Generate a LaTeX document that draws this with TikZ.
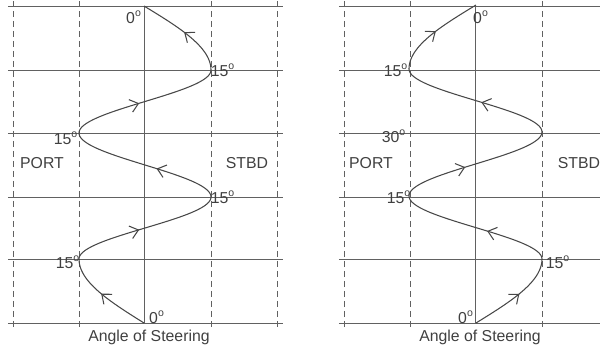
\documentclass[tikz,border=0pt]{standalone}
\usepackage{fontspec}
\setmainfont{Liberation Sans}
\usetikzlibrary{decorations.markings,arrows.meta}
\newcommand{\dgr}{\textsuperscript{o}}

\begin{document}
\begin{tikzpicture}[x=0.02cm, y=-0.02cm, >={Straight Barb[length=1.6mm,width=2.6mm]}, font=\fontsize{9}{11}\selectfont]
		\tikzset{grid/.style={draw=black!62, line width=0.5pt}}
		\tikzset{guide/.style={grid, dash pattern=on 0.12cm off 0.08cm}}
		\tikzset{track/.style={draw=black!72, line width=0.6pt}}
		\tikzset{lab/.style={text=black!75, inner sep=0pt}}
		\tikzset{midarrow/.style={postaction={decorate}, decoration={markings, mark=at position #1 with {\arrow{>}}}}}
		\useasboundingbox (0,0) rectangle (600,349);
		\clip (0,0) rectangle (600,349);
		% grid of both panels
		\foreach \dx in {0,331} {
			\foreach \y in {6,70,133,197,259,323}
				\draw[grid] (8+\dx,\y) -- (283+\dx,\y);
			\foreach \x in {13,79,211,277}
				\draw[guide] (\x+\dx,1) -- (\x+\dx,330);
			\draw[grid] (144+\dx,6) -- (144+\dx,323);
		}
		% left panel
		\draw[track, midarrow=0.55] plot[domain=0:1, samples=40] ({144-65*sin(90*\x)}, {323-64*\x});
		\draw[track, midarrow=0.46] plot[domain=0:1, samples=60] ({145-66*cos(180*\x)}, {259-62*\x});
		\draw[track, midarrow=0.42] plot[domain=0:1, samples=60] ({145+66*cos(180*\x)}, {197-64*\x});
		\draw[track, midarrow=0.46] plot[domain=0:1, samples=60] ({145-66*cos(180*\x)}, {133-63*\x});
		\draw[track, midarrow=0.5] plot[domain=0:1, samples=40] ({144+67*cos(90*\x)}, {70-64*\x});
		\node[lab] (l0lab) at (157,317) {0\dgr};
		\node[lab] (l1lab) at (68,262) {15\dgr};
		\node[lab] (l2lab) at (223,197) {15\dgr};
		\node[lab] (l3lab) at (66,138) {15\dgr};
		\node[lab] (l4lab) at (223,70) {15\dgr};
		\node[lab] (l5lab) at (134,17) {0\dgr};
		\node[lab] (lport) at (42,163) {PORT};
		\node[lab] (lstbd) at (247,163) {STBD};
		\node[lab] (ltitle) at (149,337) {Angle of Steering};
		% right panel
		\draw[track, midarrow=0.55] plot[domain=0:1, samples=40] ({476+66*sin(90*\x)}, {323-64*\x});
		\draw[track, midarrow=0.42] plot[domain=0:1, samples=60] ({475.5+66.5*cos(180*\x)}, {259-63*\x});
		\draw[track, midarrow=0.43] plot[domain=0:1, samples=60] ({475.5-66.5*cos(180*\x)}, {196-64*\x});
		\draw[track, midarrow=0.46] plot[domain=0:1, samples=60] ({475.5+66.5*cos(180*\x)}, {132-63*\x});
		\draw[track, midarrow=0.5] plot[domain=0:1, samples=40] ({476-67*cos(90*\x)}, {69-64*\x});
		\node[lab] (r0lab) at (466,317) {0\dgr};
		\node[lab] (r1lab) at (558,262) {15\dgr};
		\node[lab] (r2lab) at (399,197) {15\dgr};
		\node[lab] (r3lab) at (394,136) {30\dgr};
		\node[lab] (r4lab) at (396,70) {15\dgr};
		\node[lab] (r5lab) at (481,17) {0\dgr};
		\node[lab] (rport) at (371,163) {PORT};
		\node[lab] (rstbd) at (579,163) {STBD};
		\node[lab] (rtitle) at (480,337) {Angle of Steering};
	\end{tikzpicture}
\end{document}
